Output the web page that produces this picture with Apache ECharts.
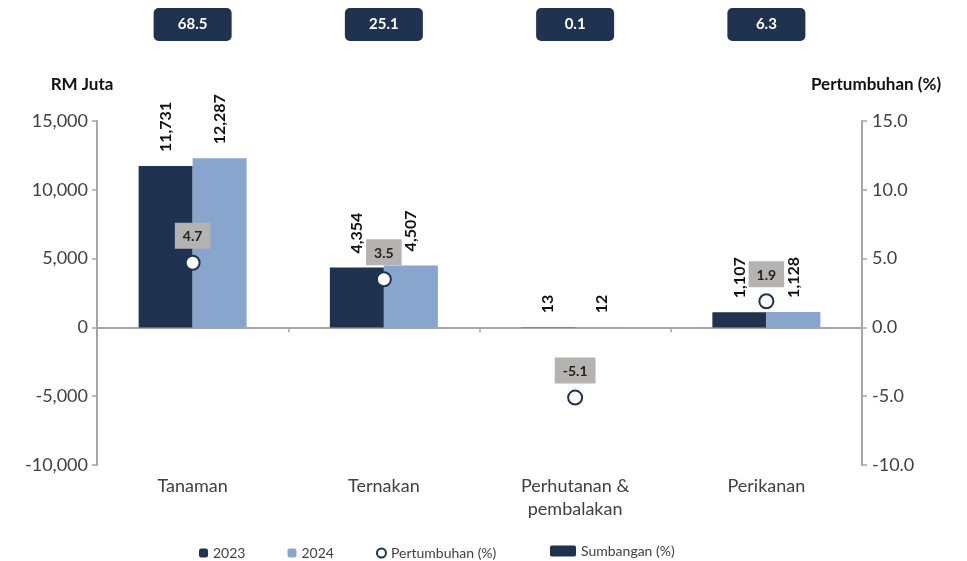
<!DOCTYPE html>
<html>
<head>
<meta charset="utf-8">
<script src="https://cdn.jsdelivr.net/npm/echarts@6/dist/echarts.min.js"></script>
<style>
html, body { margin: 0; padding: 0; background: #fff; }
#chart { width: 967px; height: 561px; }
</style>
</head>
<body>
<div id="chart"></div>
<script>
var categories = ['Tanaman', 'Ternakan', 'Perhutanan &\npembalakan', 'Perikanan'];
var val2023 = [11731, 4354, 13, 1107];
var val2024 = [12287, 4507, 12, 1128];
var pertumbuhan = [4.7, 3.5, -5.1, 1.9];
var sumbangan = [68.5, 25.1, 0.1, 6.3];

var navy = '#1f3350';
var light = '#88a5cd';
var axisGrey = '#a6a6a6';
var fontFam = 'Lato, "Open Sans", sans-serif';
// rounded box used for the Sumbangan markers
var boxPath = 'path://M5,0h68a5,5 0 0 1 5,5v23a5,5 0 0 1 -5,5h-68a5,5 0 0 1 -5,-5v-23a5,5 0 0 1 5,-5z';

function commas(v) {
	return String(v).replace(/\B(?=(\d{3})+(?!\d))/g, ',');
}

var barLabel = {
	show: true,
	position: 'top',
	rotate: 90,
	align: 'left',
	verticalAlign: 'middle',
	distance: 14,
	fontFamily: fontFam,
	fontSize: 16,
	fontWeight: 'bold',
	color: '#111',
	formatter: function(p) { return commas(p.value); }
};

var myChart = echarts.init(document.getElementById('chart'));
var option = {
	backgroundColor: '#fff',
	textStyle: { fontFamily: fontFam },
	grid: [
		{ left: 97, right: 105, top: 121, bottom: 96 },
		{ left: 97, right: 105, top: 8, height: 33 }
	],
	legend: [
		{
			left: 194, top: 541, itemWidth: 9, itemHeight: 9, itemGap: 42,
			data: ['2023', '2024', 'Pertumbuhan (%)'],
			textStyle: { fontSize: 14, color: '#404040', fontFamily: fontFam }
		},
		{
			left: 545, top: 539, itemWidth: 26, itemHeight: 13,
			data: ['Sumbangan (%)'],
			textStyle: { fontSize: 14, color: '#404040', fontFamily: fontFam }
		}
	],
	xAxis: [
		{
			type: 'category', gridIndex: 0, data: categories,
			axisLine: { onZero: true, lineStyle: { color: axisGrey, width: 2 } },
			axisTick: { show: true, length: 5, lineStyle: { color: axisGrey, width: 1.5 } },
			axisLabel: { show: false }
		},
		{
			type: 'category', gridIndex: 0, data: categories, position: 'bottom',
			axisLine: { show: false, onZero: false },
			axisTick: { show: false },
			axisLabel: { fontSize: 18, color: '#404040', margin: 10, lineHeight: 23 }
		},
		{
			type: 'category', gridIndex: 1, data: categories, show: false
		}
	],
	yAxis: [
		{
			type: 'value', gridIndex: 0, min: -10000, max: 15000, interval: 5000,
			name: 'RM Juta', nameGap: 28,
			nameTextStyle: { fontSize: 17, fontWeight: 'bold', color: '#111', padding: [0, 30, 0, 0] },
			axisLine: { show: true, lineStyle: { color: axisGrey, width: 2 } },
			axisTick: { show: true, length: 5, lineStyle: { color: axisGrey, width: 1.5 } },
			axisLabel: { fontSize: 18, color: '#404040', margin: 9 },
			splitLine: { show: false }
		},
		{
			type: 'value', gridIndex: 0, min: -10, max: 15, interval: 5, position: 'right',
			name: 'Pertumbuhan (%)', nameGap: 28,
			nameTextStyle: { fontSize: 17, fontWeight: 'bold', color: '#111', padding: [0, 0, 0, 28] },
			axisLine: { show: true, lineStyle: { color: axisGrey, width: 2 } },
			axisTick: { show: true, length: 5, lineStyle: { color: axisGrey, width: 1.5 } },
			axisLabel: { fontSize: 18, color: '#404040', margin: 10, formatter: function(v) { return v.toFixed(1); } },
			splitLine: { show: false }
		},
		{
			type: 'value', gridIndex: 1, min: -1, max: 1, show: false
		}
	],
	series: [
		{
			name: '2023', type: 'bar', xAxisIndex: 0, yAxisIndex: 0,
			data: val2023, barWidth: 54, barGap: '0%',
			itemStyle: { color: navy }, label: barLabel
		},
		{
			name: '2024', type: 'bar', xAxisIndex: 0, yAxisIndex: 0,
			data: val2024, barWidth: 54, barGap: '0%',
			itemStyle: { color: light }, label: barLabel
		},
		{
			name: 'Pertumbuhan (%)', type: 'scatter', xAxisIndex: 0, yAxisIndex: 1,
			data: pertumbuhan, symbol: 'circle', symbolSize: 14, z: 5,
			itemStyle: { color: '#fff', borderColor: navy, borderWidth: 2, opacity: 1 },
			label: {
				show: true, position: 'top', distance: 6,
				backgroundColor: '#b5b3b1', padding: [7, 8, 5, 8],
				fontSize: 14, fontWeight: 'bold', color: '#222',
				formatter: function(p) { return p.value.toFixed(1); }
			}
		},
		{
			name: 'Sumbangan (%)', type: 'scatter', xAxisIndex: 2, yAxisIndex: 2,
			data: sumbangan.map(function(v, i) { return [categories[i], 0, v]; }),
			symbol: boxPath, symbolSize: [78, 33], clip: false,
			itemStyle: { color: navy, opacity: 1 },
			label: {
				show: true, position: 'inside', fontSize: 15, fontWeight: 'bold', color: '#fff',
				formatter: function(p) { return p.value[2].toFixed(1); }
			}
		}
	]
};
myChart.setOption(option);
</script>
</body>
</html>
